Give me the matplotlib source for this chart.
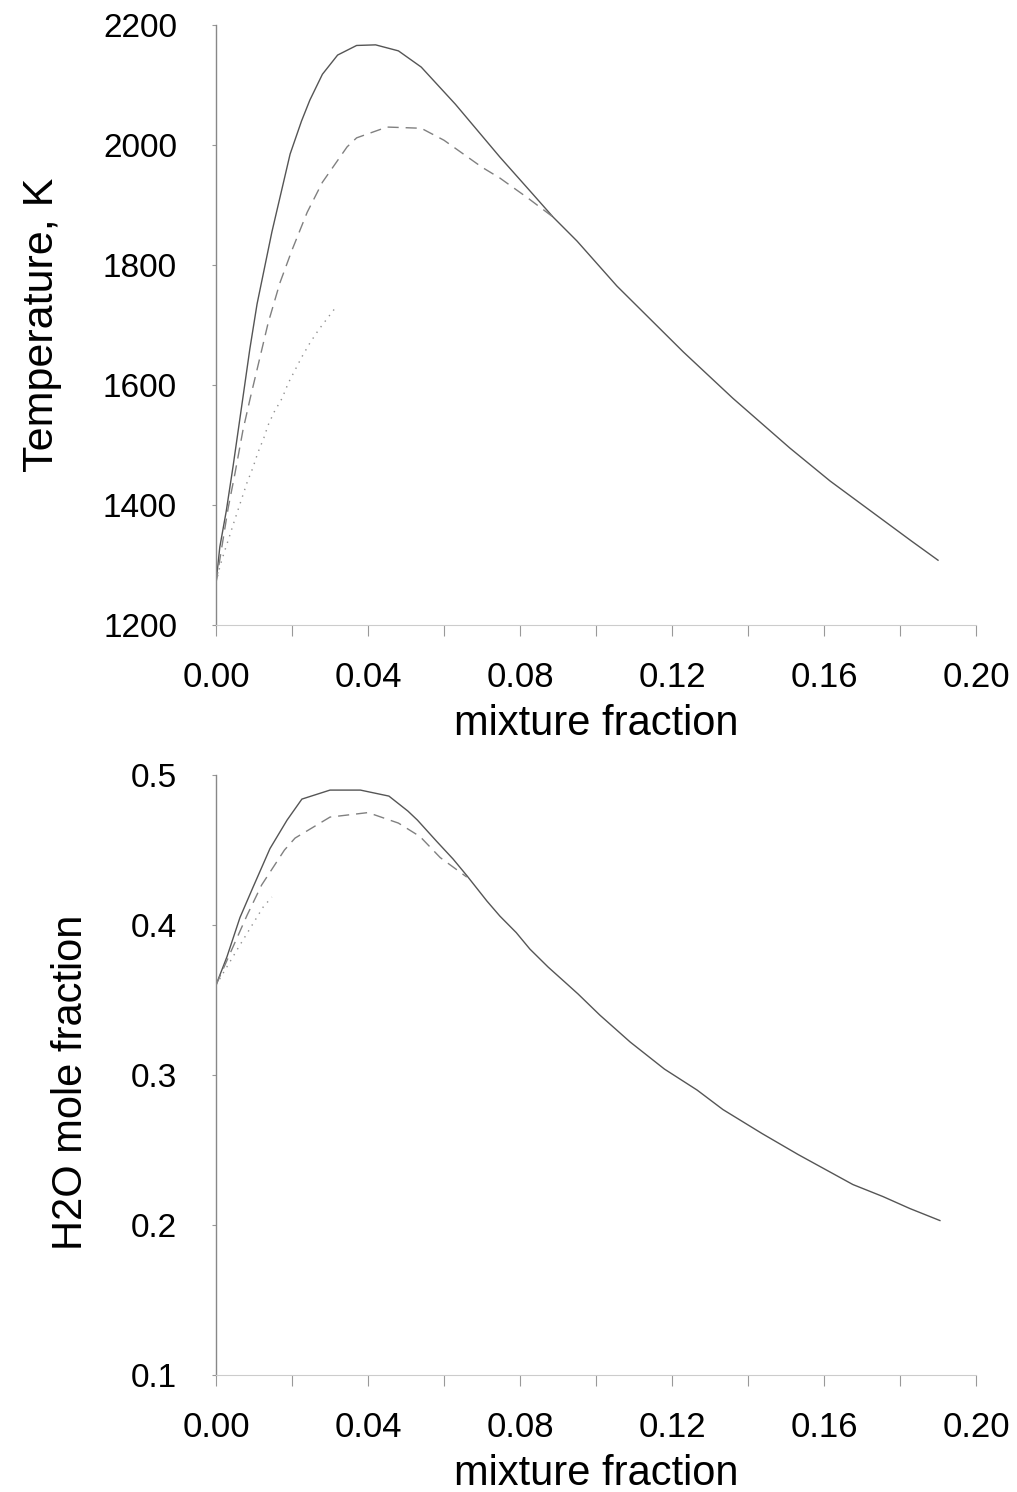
import matplotlib
matplotlib.use('Agg')
import matplotlib.pyplot as plt
from matplotlib.ticker import MultipleLocator, FormatStrFormatter

plt.rcParams['font.family'] = ['Liberation Sans', 'DejaVu Sans']

# 温度 (上段)
mf_T_a = [0.0, 0.001, 0.0027, 0.0045, 0.0071, 0.0089, 0.0108, 0.0147, 0.0195, 0.0225, 0.0247, 0.028,
          0.032, 0.037, 0.042, 0.048, 0.054, 0.063, 0.0747, 0.0834, 0.0887, 0.095, 0.1055, 0.123,
          0.136, 0.151, 0.1616, 0.183, 0.190]
T_a = [1270, 1330, 1390, 1465, 1580, 1660, 1735, 1855, 1985, 2040, 2075, 2118,
       2150, 2166, 2167, 2157, 2130, 2068, 1980, 1918, 1880, 1840, 1765, 1655,
       1578, 1495, 1440, 1340, 1308]

mf_T_b = [0.0, 0.0032, 0.005, 0.0071, 0.009, 0.0116, 0.0137, 0.0168, 0.020, 0.024, 0.028, 0.0345,
          0.037, 0.045, 0.054, 0.060, 0.070, 0.0747, 0.082, 0.0887]
T_b = [1270, 1395, 1453, 1525, 1578, 1647, 1703, 1770, 1825, 1888, 1938, 1997,
       2012, 2030, 2028, 2008, 1963, 1945, 1912, 1880]

mf_T_c = [0.0, 0.001, 0.0021, 0.0034, 0.0045, 0.0058, 0.0082, 0.0097, 0.011, 0.0126, 0.0137, 0.0153,
          0.0174, 0.019, 0.0208, 0.0226, 0.0247, 0.027, 0.0318]
T_c = [1270, 1297, 1320, 1345, 1367, 1392, 1438, 1462, 1487, 1512, 1533, 1555,
       1578, 1603, 1625, 1647, 1670, 1692, 1732]

# H2Oモル分率 (下段)
mf_h_a = [0.0, 0.0029, 0.0063, 0.0097, 0.0142, 0.0187, 0.0226, 0.030, 0.038, 0.0455, 0.0505, 0.053,
          0.058, 0.0624, 0.066, 0.0713, 0.0747, 0.079, 0.0826, 0.0874, 0.0918, 0.0953, 0.101, 0.109,
          0.118, 0.1266, 0.1334, 0.1437, 0.1532, 0.1676, 0.1755, 0.1826, 0.1905]
h_a = [0.360, 0.379, 0.405, 0.425, 0.451, 0.470, 0.484, 0.490, 0.490, 0.486, 0.476, 0.470,
       0.456, 0.444, 0.433, 0.416, 0.406, 0.395, 0.384, 0.372, 0.362, 0.354, 0.340, 0.322,
       0.304, 0.290, 0.277, 0.261, 0.247, 0.227, 0.219, 0.211, 0.203]

mf_h_b = [0.0, 0.0082, 0.012, 0.018, 0.0208, 0.030, 0.040, 0.048, 0.0537, 0.059, 0.066]
h_b = [0.360, 0.4067, 0.4267, 0.450, 0.458, 0.472, 0.475, 0.468, 0.459, 0.445, 0.432]

mf_h_c = [0.0, 0.0063, 0.0103, 0.0124, 0.0147]
h_c = [0.360, 0.3867, 0.4033, 0.412, 0.4187]

fig = plt.figure(figsize=(10.17, 14.92), dpi=100)
ax1 = fig.add_axes([0.2124, 0.5811, 0.7473, 0.4021])
ax2 = fig.add_axes([0.2124, 0.0784, 0.7473, 0.4021])


def style_axis(ax):
    for s in ['top', 'right']:
        ax.spines[s].set_visible(False)
    ax.spines['left'].set_color('#888888')
    ax.spines['left'].set_linewidth(1.0)
    ax.spines['bottom'].set_color('#cccccc')
    ax.spines['bottom'].set_linewidth(0.8)
    ax.set_xlim(0, 0.20)
    ax.xaxis.set_major_locator(MultipleLocator(0.04))
    ax.xaxis.set_minor_locator(MultipleLocator(0.02))
    ax.xaxis.set_major_formatter(FormatStrFormatter('%.2f'))
    ax.tick_params(axis='x', which='both', direction='out', length=8, width=0.8,
                   color='#999999', labelsize=25, pad=18)
    ax.tick_params(axis='y', which='both', direction='out', length=3, width=0.8,
                   color='#999999', labelsize=24, pad=25)
    ax.set_xlabel('mixture fraction', fontsize=30, labelpad=7)


ax1.plot(mf_T_a, T_a, color='#555555', lw=1.0)
ax1.plot(mf_T_b, T_b, color='#808080', lw=1.0, ls=(0, (8, 5)))
ax1.plot(mf_T_c, T_c, color='#909090', lw=1.0, ls=(0, (1, 4)))
style_axis(ax1)
ax1.set_ylim(1200, 2200)
ax1.yaxis.set_major_locator(MultipleLocator(200))
ax1.set_ylabel('Temperature, K', fontsize=31)
ax1.yaxis.set_label_coords(-0.203, 0.50)

ax2.plot(mf_h_a, h_a, color='#555555', lw=1.0)
ax2.plot(mf_h_b, h_b, color='#808080', lw=1.0, ls=(0, (8, 5)))
ax2.plot(mf_h_c, h_c, color='#909090', lw=1.0, ls=(0, (1, 4)))
style_axis(ax2)
ax2.set_ylim(0.1, 0.5)
ax2.yaxis.set_major_locator(MultipleLocator(0.1))
ax2.yaxis.set_major_formatter(FormatStrFormatter('%.1f'))
ax2.set_ylabel('H2O mole fraction', fontsize=30)
ax2.yaxis.set_label_coords(-0.164, 0.488)

fig.savefig('out.png', dpi=100)
